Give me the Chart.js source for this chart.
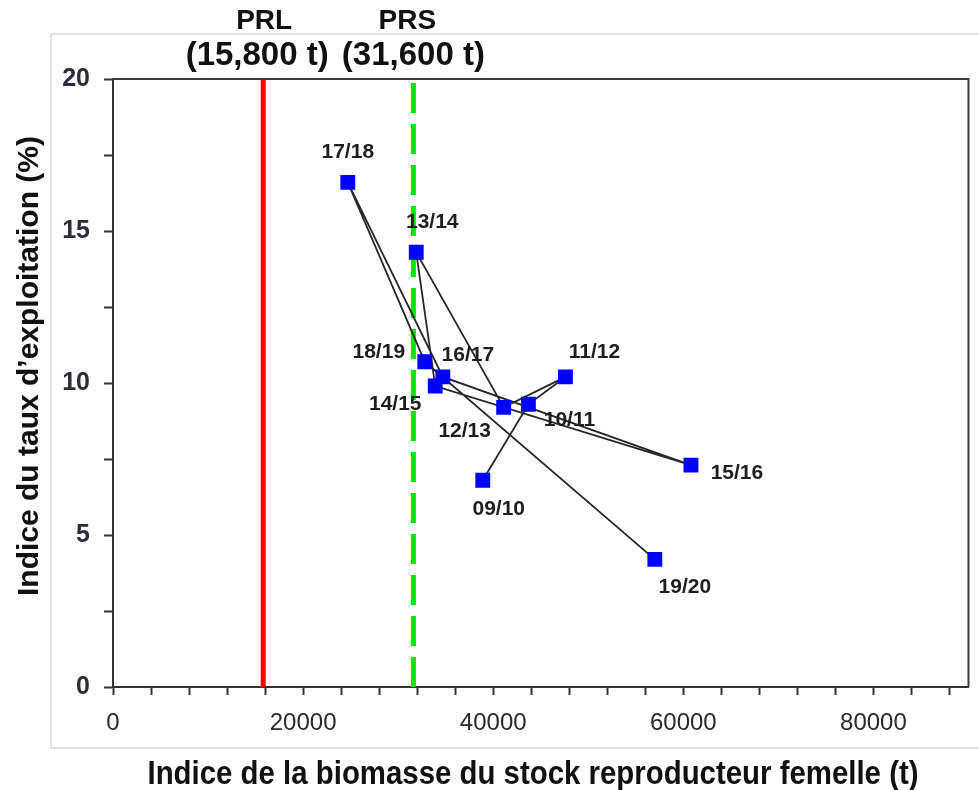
<!DOCTYPE html>
<html>
<head>
<meta charset="utf-8">
<script src="https://cdn.jsdelivr.net/npm/chart.js@4.4.1/dist/chart.umd.min.js"></script>
<style>
  body { margin: 0; background: #fff; }
</style>
</head>
<body>
<canvas id="chart" width="979" height="790"></canvas>
<script>
const years = ["09/10", "10/11", "11/12", "12/13", "13/14", "14/15", "15/16", "16/17", "17/18", "18/19", "19/20"];
const biomass = [38900, 43700, 47600, 41100, 31900, 33900, 60800, 34700, 24700, 32800, 57000];
const exploitation = [6.8, 9.3, 10.2, 9.2, 14.3, 9.9, 7.3, 10.2, 16.6, 10.7, 4.2];

const prlValue = 15800;
const prsValue = 31600;
const refNames = ["PRL", "PRS"];
const refTexts = ["(15,800 t)", "(31,600 t)"];
const yRange = [0, 20];

// x axis: tick marks every 4000, labels every 20000
const xTickMarks = Array.from({ length: 23 }, (_, i) => i * 4000);
const xTickLabels = [0, 20000, 40000, 60000, 80000];

const xTitle = "Indice de la biomasse du stock reproducteur femelle (t)";
const yTitle = "Indice du taux d’exploitation (%)";

// label placement next to each square (px)
const labelOffsets = [[16, 29], [41, 16], [29, -25], [-39, 24], [16, -30], [-40, 18], [46, 8], [25, -22], [0, -30], [-46, -10], [30, 28]];

const boldFont = "'Liberation Sans', Arial, sans-serif";

const textPlugin = {
  id: "texts",
  beforeDraw(chart) {
    const ctx = chart.ctx;
    ctx.save();
    ctx.strokeStyle = "#d9d9d9";
    ctx.lineWidth = 1.5;
    ctx.beginPath();
    ctx.moveTo(980, 34);
    ctx.lineTo(51, 34);
    ctx.lineTo(51, 748);
    ctx.lineTo(980, 748);
    ctx.stroke();
    ctx.restore();
  },
  afterDraw(chart) {
    const { ctx, chartArea, scales } = chart;
    ctx.save();
    // plot frame top / right
    ctx.strokeStyle = "#3a3a3a";
    ctx.lineWidth = 2;
    ctx.beginPath();
    ctx.moveTo(chartArea.left, chartArea.top);
    ctx.lineTo(chartArea.right, chartArea.top);
    ctx.lineTo(chartArea.right, chartArea.bottom);
    ctx.stroke();

    // point labels
    const meta = chart.getDatasetMeta(0);
    ctx.fillStyle = "#1e1e1e";
    ctx.font = "bold 21px " + boldFont;
    ctx.textAlign = "center";
    ctx.textBaseline = "middle";
    meta.data.forEach((pt, i) => {
      ctx.fillText(years[i], pt.x + labelOffsets[i][0], pt.y + labelOffsets[i][1]);
    });

    // reference point labels above the plot
    const refX = [scales.x.getPixelForValue(prlValue), scales.x.getPixelForValue(prsValue)];
    ctx.fillStyle = "#111";
    ctx.font = "bold 28px " + boldFont;
    ctx.fillText(refNames[0], refX[0] + 1, 21);
    ctx.fillText(refNames[1], refX[1] - 6, 21);
    ctx.font = "bold 33px " + boldFont;
    ctx.fillText(refTexts[0], refX[0] - 6, 56);
    ctx.fillText(refTexts[1], refX[1], 56);

    // axis titles (condensed to the width they take in the figure)
    ctx.font = "bold 33px " + boldFont;
    ctx.fillText(xTitle, 533, 775, 771);
    ctx.translate(30, 366);
    ctx.rotate(-Math.PI / 2);
    ctx.font = "bold 30px " + boldFont;
    ctx.fillText(yTitle, 0, 0, 482);
    ctx.restore();
  }
};

new Chart(document.getElementById("chart"), {
  type: "line",
  data: {
    datasets: [
      {
        data: biomass.map((x, i) => ({ x, y: exploitation[i] })),
        borderColor: "#262626",
        borderWidth: 1.8,
        pointStyle: "rect",
        pointRadius: 10.5,
        pointBackgroundColor: "#0000ff",
        pointBorderWidth: 0,
        tension: 0,
      },
      {
        data: yRange.map((y) => ({ x: prsValue, y })),
        borderColor: "#00e600",
        borderWidth: 5,
        borderDash: [30, 11],
        pointRadius: 0,
      },
      {
        data: yRange.map((y) => ({ x: prlValue, y })),
        borderColor: "#ff0000",
        borderWidth: 5,
        pointRadius: 0,
      },
    ],
  },
  options: {
    responsive: false,
    devicePixelRatio: 1,
    animation: false,
    layout: { padding: { top: 79, right: 4, left: 0, bottom: 0 } },
    plugins: {
      legend: { display: false },
      tooltip: { enabled: false },
    },
    scales: {
      x: {
        type: "linear",
        min: 0,
        max: 90000,
        border: { color: "#333", width: 2 },
        grid: { drawOnChartArea: false, tickLength: 8, tickColor: "#333", tickWidth: 2 },
        afterBuildTicks: (s) => { s.ticks = xTickMarks.map((value) => ({ value })); },
        ticks: {
          autoSkip: false,
          maxRotation: 0,
          padding: 14,
          color: "#2a2a2a",
          font: { family: boldFont, size: 24 },
          callback: (v) => (xTickLabels.includes(v) ? String(v) : ""),
        },
        afterFit: (s) => { s.height = 103; },
      },
      y: {
        min: 0,
        max: 20,
        border: { color: "#333", width: 2 },
        grid: { drawOnChartArea: false, tickLength: 9, tickColor: "#333", tickWidth: 2 },
        ticks: {
          stepSize: 2.5,
          autoSkip: false,
          padding: 14,
          color: "#2b2b3b",
          font: { family: boldFont, size: 25, weight: "bold" },
          callback: (v) => (v % 5 === 0 ? String(v) : ""),
        },
        afterFit: (s) => { s.width = 113; },
      },
    },
  },
  plugins: [textPlugin],
});
</script>
</body>
</html>
